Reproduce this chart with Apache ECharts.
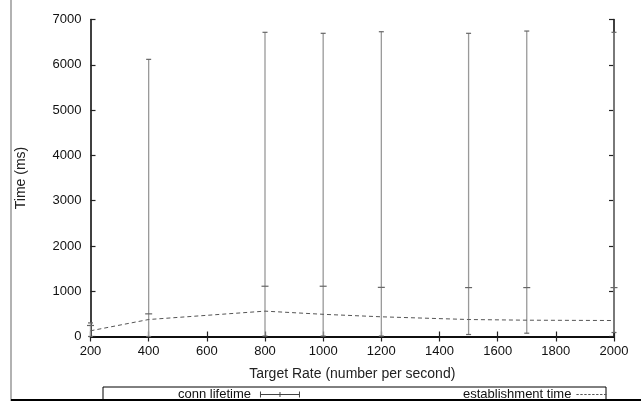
<!DOCTYPE html>
<html>
<head>
<meta charset="utf-8">
<script src="https://cdn.jsdelivr.net/npm/echarts@6/dist/echarts.min.js"></script>
<style>
  html, body { margin: 0; padding: 0; background: #fff; }
  #main { width: 641px; height: 401px; }
</style>
</head>
<body>
<div id="main"></div>
<script>
// target rates (x)
var rates = [200, 400, 800, 1000, 1200, 1500, 1700, 2000];
// conn lifetime: point, low and high end of the error bar
var connMid = [243, 500, 1110, 1110, 1085, 1080, 1080, 1080];
var connLow = [0, 0, 10, 10, 10, 44, 73, 88];
var connHigh = [300, 6120, 6717, 6695, 6730, 6695, 6745, 6717];
// establishment time
var estTime = [126, 375, 560, 490, 435, 375, 360, 353];

var font = 'Liberation Sans, Arial, Helvetica, sans-serif';

var errData = rates.map(function (r, i) {
    return [r, connLow[i], connHigh[i], connMid[i]];
});
var estData = rates.map(function (r, i) { return [r, estTime[i]]; });

function renderErr(params, api) {
    var x = api.value(0);
    var lo = api.coord([x, api.value(1)]);
    var hi = api.coord([x, api.value(2)]);
    var mid = api.coord([x, api.value(3)]);
    var barStyle = { stroke: '#999', lineWidth: 1.3 };
    var capStyle = { stroke: '#666', lineWidth: 1.2 };
    return {
        type: 'group',
        children: [
            { type: 'line', shape: { x1: lo[0], y1: lo[1], x2: hi[0], y2: hi[1] }, style: barStyle },
            { type: 'line', shape: { x1: hi[0] - 2.5, y1: hi[1], x2: hi[0] + 2.5, y2: hi[1] }, style: capStyle },
            { type: 'line', shape: { x1: lo[0] - 2.5, y1: lo[1], x2: lo[0] + 2.5, y2: lo[1] }, style: capStyle },
            { type: 'line', shape: { x1: mid[0] - 3.5, y1: mid[1], x2: mid[0] + 3.5, y2: mid[1] }, style: capStyle }
        ]
    };
}

var errIcon = 'path://M0,3.5h40v1h-40z M0,1h1v6h-1z M19.5,1.5h1v5h-1z M39,1h1v6h-1z';
var dashIcon = 'path://M0,3.5h3v1h-3z M5,3.5h3v1h-3z M10,3.5h3v1h-3z M15,3.5h3v1h-3z M20,3.5h3v1h-3z M25,3.5h3v1h-3z M30,3.5h3v1h-3z M35,3.5h3v1h-3z';

var axisLine = { show: true, lineStyle: { color: '#000', width: 1.5 } };
var axisTick = { show: true, inside: true, length: 5, lineStyle: { color: '#222', width: 1.2 } };
var axisLabel = { color: '#111', fontSize: 13, fontFamily: font, formatter: function (v) { return String(v); } };

var option = {
    animation: false,
    backgroundColor: '#fff',
    grid: { left: 90.5, right: 27, top: 19.5, bottom: 64.5 },
    xAxis: [{
        type: 'value', min: 200, max: 2000, interval: 200,
        name: 'Target Rate (number per second)', nameLocation: 'middle', nameGap: 31,
        nameTextStyle: { color: '#222', fontSize: 14, fontFamily: font },
        axisLine: axisLine, axisTick: axisTick,
        axisLabel: Object.assign({ margin: 8 }, axisLabel),
        splitLine: { show: false }
    }, {
        type: 'value', min: 200, max: 2000, interval: 200, position: 'top',
        axisLine: axisLine, axisTick: axisTick, axisLabel: { show: false },
        splitLine: { show: false }
    }],
    yAxis: [{
        type: 'value', min: 0, max: 7000, interval: 1000,
        name: 'Time (ms)', nameLocation: 'middle', nameGap: 62,
        nameTextStyle: { color: '#222', fontSize: 14, fontFamily: font },
        axisLine: axisLine, axisTick: axisTick,
        axisLabel: Object.assign({ margin: 9 }, axisLabel),
        splitLine: { show: false }
    }, {
        type: 'value', min: 0, max: 7000, interval: 1000, position: 'right',
        axisLine: axisLine, axisTick: axisTick, axisLabel: { show: false },
        splitLine: { show: false }
    }],
    legend: [{
        data: [{ name: 'conn lifetime', icon: errIcon }],
        left: 178, top: 388, align: 'right', itemGap: 0,
        itemWidth: 40, itemHeight: 8,
        itemStyle: { color: '#444' },
        textStyle: { color: '#111', fontSize: 13, fontFamily: font, padding: [0, 4, 0, 0] },
        padding: 0
    }, {
        data: [{ name: 'establishment time', icon: dashIcon }],
        left: 463, top: 388, align: 'right',
        itemWidth: 30, itemHeight: 8,
        itemStyle: { color: '#555' },
        textStyle: { color: '#111', fontSize: 13, fontFamily: font },
        padding: 0
    }],
    graphic: [
        { type: 'rect', shape: { x: 103, y: 387, width: 503, height: 20 }, style: { fill: 'none', stroke: '#000', lineWidth: 1 }, z: -1 },
        { type: 'line', shape: { x1: 11, y1: 0, x2: 11, y2: 401 }, style: { stroke: '#999', lineWidth: 1.5 } },
        { type: 'line', shape: { x1: 11, y1: 400, x2: 641, y2: 400 }, style: { stroke: '#000', lineWidth: 2 } }
    ],
    series: [{
        name: 'conn lifetime',
        type: 'custom',
        renderItem: renderErr,
        data: errData,
        encode: { x: 0, y: [1, 2] },
        itemStyle: { color: '#444' },
        clip: false
    }, {
        name: 'establishment time',
        type: 'line',
        data: estData,
        symbol: 'none',
        lineStyle: { color: '#555', width: 1, type: [4, 3] },
        itemStyle: { color: '#555' }
    }]
};

var myChart = echarts.init(document.getElementById('main'));
myChart.setOption(option);
</script>
</body>
</html>
